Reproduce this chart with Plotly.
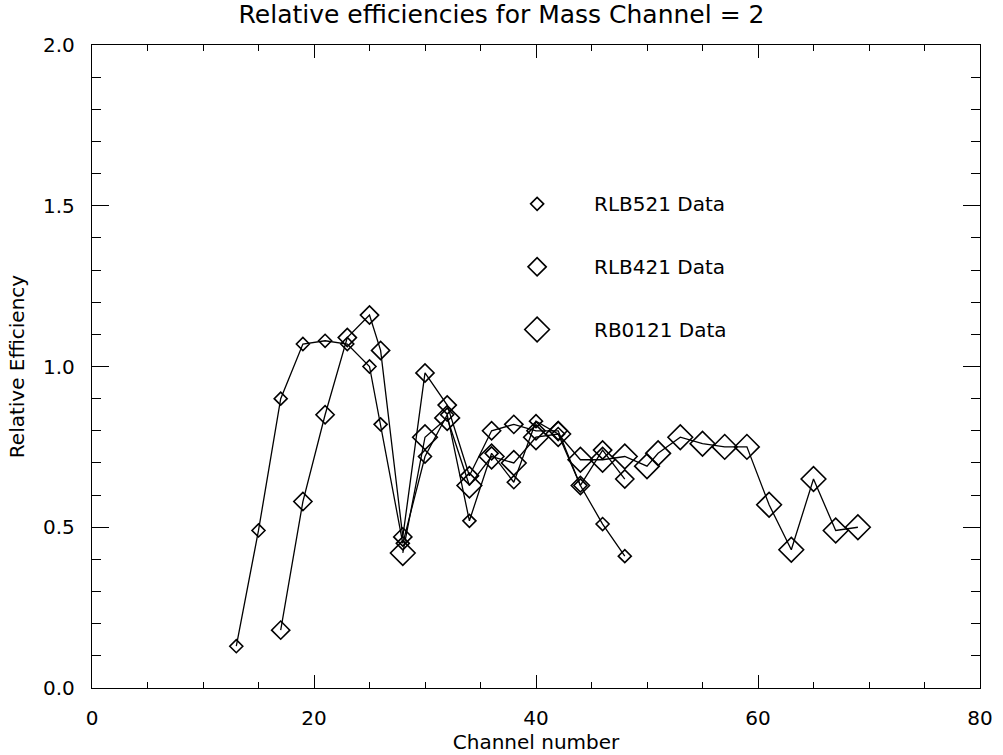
import plotly.graph_objects as go

# RLB521 (small diamonds)
x_rlb521 = [13, 15, 17, 19, 21, 23, 25, 26, 28, 30, 32, 34, 36, 38, 40, 42, 44, 46, 48]
y_rlb521 = [0.13, 0.49, 0.90, 1.07, 1.08, 1.07, 1.00, 0.82, 0.45, 0.72, 0.85, 0.52,
            0.73, 0.64, 0.83, 0.79, 0.63, 0.51, 0.41]

# RLB421 (medium diamonds)
x_rlb421 = [17, 19, 21, 23, 25, 26, 28, 30, 32, 34, 36, 38, 40, 42, 44, 46, 48]
y_rlb421 = [0.18, 0.58, 0.85, 1.09, 1.16, 1.05, 0.47, 0.98, 0.88, 0.66, 0.80, 0.82,
            0.80, 0.80, 0.63, 0.74, 0.65]

# RB0121 (large diamonds)
x_rb0121 = [28, 30, 32, 34, 36, 38, 40, 42, 44, 46, 48, 50, 51, 53, 55, 57, 59, 61,
            63, 65, 67, 69]
y_rb0121 = [0.42, 0.78, 0.84, 0.63, 0.72, 0.70, 0.78, 0.79, 0.71, 0.71, 0.72, 0.69,
            0.73, 0.78, 0.76, 0.75, 0.75, 0.57, 0.43, 0.65, 0.49, 0.50]

series_names = ["RLB521 Data", "RLB421 Data", "RB0121 Data"]
marker_sizes = [10, 14, 19]

FONT = "DejaVu Sans"

fig = go.Figure()
for xs, ys, name, ms in zip([x_rlb521, x_rlb421, x_rb0121],
                            [y_rlb521, y_rlb421, y_rb0121],
                            series_names, marker_sizes):
    fig.add_trace(go.Scatter(
        x=xs, y=ys, mode="lines+markers", name=name, showlegend=False,
        line=dict(color="black", width=1.3),
        marker=dict(symbol="diamond-open", size=ms, color="black",
                    line=dict(color="black", width=1.6)),
    ))

# legend glyphs and labels (placed in data coordinates like the original)
legend_x_sym = 40.1
legend_x_txt = 45.0
legend_y = [1.506, 1.31, 1.115]
for name, ms, ly in zip(series_names, marker_sizes, legend_y):
    fig.add_trace(go.Scatter(
        x=[legend_x_sym], y=[ly], mode="markers", showlegend=False,
        marker=dict(symbol="diamond-open", size=ms, color="black",
                    line=dict(color="black", width=1.6)),
        hoverinfo="skip",
    ))
    fig.add_annotation(x=legend_x_txt, y=ly, text=name, showarrow=False,
                       xanchor="left", yanchor="middle",
                       font=dict(family=FONT, size=20, color="black"))

axis_common = dict(showgrid=False, zeroline=False, showline=True, linecolor="black",
                   linewidth=1.4, mirror="ticks", ticks="inside", tickcolor="black",
                   tickwidth=1.3, automargin=False,
                   tickfont=dict(family=FONT, size=20, color="black"))

fig.update_layout(
    width=1003, height=755,
    margin=dict(l=92, r=23, t=45, b=67),
    paper_bgcolor="white", plot_bgcolor="white",
    title=dict(text="Relative efficiencies for Mass Channel = 2", x=0.5, xref="container",
               y=0.981, yref="container", yanchor="middle", xanchor="center",
               font=dict(family=FONT, size=25, color="black")),
    xaxis=dict(range=[0, 80], tickvals=[0, 20, 40, 60, 80], ticklen=13,
               ticklabelstandoff=12,
               minor=dict(dtick=5, ticklen=6, ticks="inside", tickcolor="black", tickwidth=1),
               title=dict(text="Channel number", font=dict(family=FONT, size=20, color="black"),
                          standoff=4),
               **axis_common),
    yaxis=dict(range=[0, 2.0], tickvals=[0, 0.5, 1.0, 1.5, 2.0], tickformat=".1f", ticklen=17,
               ticklabelstandoff=12,
               minor=dict(dtick=0.1, ticklen=9, ticks="inside", tickcolor="black", tickwidth=1),
               title=dict(text="Relative Efficiency", font=dict(family=FONT, size=20, color="black"),
                          standoff=12),
               **axis_common),
)

fig.write_html("out.html")
